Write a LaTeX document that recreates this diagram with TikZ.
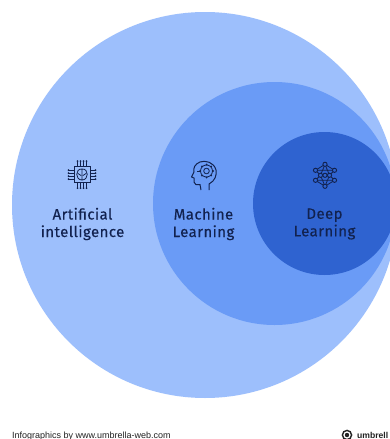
\documentclass[tikz,border=0pt]{standalone}
\usepackage{fontspec}
\setmainfont[LetterSpace=2.8,FakeBold=0.3]{Fira Sans}
\newfontfamily\footfont{Liberation Sans}
\definecolor{outerblue}{HTML}{9DBFFC}
\definecolor{midblue}{HTML}{6A9BF6}
\definecolor{deepblue}{HTML}{2F63D0}
\definecolor{inkblue}{HTML}{12224F}
\definecolor{footink}{HTML}{222222}
\tikzset{
  lbl/.style={text=inkblue,font=\fontsize{15}{17.5}\selectfont,align=center,inner sep=0pt},
  foot/.style={text=footink,font=\footfont\fontsize{9}{10}\selectfont,inner sep=0pt,anchor=base west},
  icon/.style={draw=inkblue,line width=1pt,fill=none},
  thin icon/.style={draw=inkblue,line width=0.8pt,fill=none},
  dot/.style={draw=inkblue,line width=0.9pt,fill=none}
}
\begin{document}
\begin{tikzpicture}[x=1pt,y=-1pt]
\useasboundingbox (0,0) rectangle (390,439);
\clip (0,0) rectangle (390,439);
\fill[white] (0,0) rectangle (390,439);
\fill[outerblue] (205,205) circle[radius=193];
\fill[midblue] (274.5,203.5) circle[radius=121.5];
\fill[deepblue] (324.5,203.5) circle[radius=71.5];
% chip icon
\begin{scope}[shift={(82,174.5)}]
  \draw[icon] (-8,-8) rectangle (8,8);
  \draw[thin icon] (0,-5.5) .. controls (-7,-6) and (-7,5.5) .. (0,5.5) .. controls (7,5.5) and (7,-6) .. (0,-5.5) (0,-5.5) -- (0,5.5) (-4,-1) -- (-1,1) (4,-1) -- (1,1);
  \foreach \p in {-4.5,-1.5,1.5,4.5}{
    \draw[thin icon] (\p,-8) -- (\p,-13);
    \fill[inkblue] (\p,-13.5) circle[radius=1];
    \draw[thin icon] (\p,8) -- (\p,13);
    \fill[inkblue] (\p,13.5) circle[radius=1];
    \draw[thin icon] (-8,\p) -- (-13,\p);
    \fill[inkblue] (-13.5,\p) circle[radius=1];
    \draw[thin icon] (8,\p) -- (13,\p);
    \fill[inkblue] (13.5,\p) circle[radius=1];
  }
\end{scope}
% head icon
\begin{scope}[shift={(204,175)}]
  \draw[icon,line join=round] (5,15) -- (5,9) .. controls (11,6) and (13,0) .. (12,-5) .. controls (10,-13) and (1,-15) .. (-4,-13) .. controls (-9,-11) and (-11,-7) .. (-10,-3) -- (-12.5,2) -- (-10,3) -- (-10,7) .. controls (-10,10) and (-7,10) .. (-4,9.5) -- (-3,15);
  \draw[thin icon] (2.5,-4) circle[radius=2.8];
  \draw[thin icon] (2.5,-4) circle[radius=6];
  \foreach \a in {0,45,...,315}{\fill[inkblue] (2.5,-4) ++(\a:6.5) circle[radius=1];}
  \draw[thin icon] (-7,-4) -- (-4,-4);
\end{scope}
% network icon
\begin{scope}[shift={(325,175.3)}]
  \coordinate (nt) at (0,-11);
  \coordinate (nb) at (0,11);
  \coordinate (ntl) at (-9.5,-5);
  \coordinate (ntr) at (9.5,-5);
  \coordinate (nbl) at (-9.5,5);
  \coordinate (nbr) at (9.5,5);
  \coordinate (nml) at (-4.5,0);
  \coordinate (nmc) at (0,0);
  \coordinate (nmr) at (4.5,0);
  \draw[thin icon] (nt) -- (ntl) -- (nml) -- (nbl) -- (nb) -- (nbr) -- (nmr) -- (ntr) -- cycle;
  \draw[thin icon] (nt) -- (nml) (nt) -- (nmr) (nb) -- (nml) (nb) -- (nmr) (ntl) -- (ntr) (nbl) -- (nbr) (nml) -- (nmr);
  \foreach \n in {nt,nb,ntl,ntr,nbl,nbr,nml,nmc,nmr}{\filldraw[dot,fill=deepblue] (\n) circle[radius=2.1];}
\end{scope}
\node[lbl] (ai) at (82.5,224) {Artificial\\intelligence};
\node[lbl] (ml) at (203.5,224) {Machine\\Learning};
\node[lbl] (dl) at (324.5,224) {Deep\\Learning};
\node[foot] (credit) at (12,438.2) {Infographics by www.umbrella-web.com};
\node[foot,font=\footfont\bfseries\fontsize{8.6}{10}\selectfont] (brand) at (357,438.2) {umbrell};
\draw[line width=1.4pt,draw=footink] (347,435) circle[radius=4.6];
\fill[footink] (347,435) circle[radius=2.2];
\end{tikzpicture}
\end{document}
